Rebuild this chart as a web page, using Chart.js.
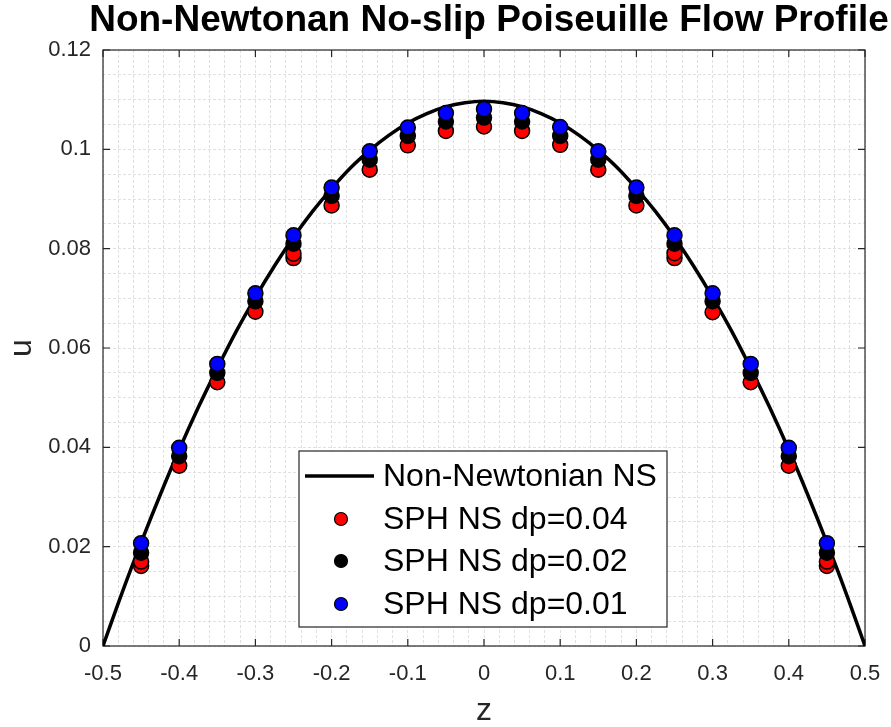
<!DOCTYPE html>
<html>
<head>
<meta charset="utf-8">
<title>Non-Newtonan No-slip Poiseuille Flow Profile</title>
<script src="https://cdn.jsdelivr.net/npm/chart.js@4.4.1/dist/chart.umd.min.js"></script>
<style>
    body { margin: 0; background: #fff; }
    canvas { display: block; }
</style>
</head>
<body>
<canvas id="flowChart" width="891" height="727"></canvas>
<script>
// analytic non-newtonian profile
const zLine = [-0.5, -0.475, -0.45, -0.425, -0.4, -0.375, -0.35, -0.325, -0.3, -0.275, -0.25, -0.225, -0.2, -0.175, -0.15, -0.125, -0.1, -0.075, -0.05, -0.025,
    0, 0.025, 0.05, 0.075, 0.1, 0.125, 0.15, 0.175, 0.2, 0.225, 0.25, 0.275, 0.3, 0.325, 0.35, 0.375, 0.4, 0.425, 0.45, 0.475, 0.5];
const uLine = [0, 0.0107, 0.0208, 0.0304, 0.0395, 0.0480, 0.0559, 0.0634, 0.0702, 0.0765, 0.0823, 0.0875, 0.0921, 0.0963, 0.0998, 0.1028, 0.1053, 0.1072, 0.1086, 0.1094,
    0.1097, 0.1094, 0.1086, 0.1072, 0.1053, 0.1028, 0.0998, 0.0963, 0.0921, 0.0875, 0.0823, 0.0765, 0.0702, 0.0634, 0.0559, 0.0480, 0.0395, 0.0304, 0.0208, 0.0107, 0];

// SPH samples
const zSph = [-0.45, -0.4, -0.35, -0.3, -0.25, -0.2, -0.15, -0.1, -0.05, 0, 0.05, 0.1, 0.15, 0.2, 0.25, 0.3, 0.35, 0.4, 0.45];
const uDp004 = [0.0170, 0.0363, 0.0531, 0.0673, 0.0790, 0.0887, 0.0959, 0.1008, 0.1037, 0.1046, 0.1037, 0.1009, 0.0959, 0.0887, 0.0791, 0.0672, 0.0531, 0.0363, 0.0170];
const uDp002 = [0.0188, 0.0382, 0.0550, 0.0694, 0.0810, 0.0906, 0.0979, 0.1027, 0.1056, 0.1064, 0.1056, 0.1027, 0.0979, 0.0906, 0.0810, 0.0694, 0.0550, 0.0382, 0.0188];
const uDp001 = [0.0207, 0.0399, 0.0568, 0.0710, 0.0827, 0.0923, 0.0996, 0.1044, 0.1073, 0.1081, 0.1073, 0.1045, 0.0996, 0.0923, 0.0827, 0.0710, 0.0568, 0.0399, 0.0207];
// dp=0.04 has a second, slightly lower marker at a few positions
const zDp004Extra = [-0.45, -0.25, 0.25, 0.45];
const uDp004Extra = [0.0161, 0.0781, 0.0781, 0.0161];

const xTickLabels = ['-0.5', '-0.4', '-0.3', '-0.2', '-0.1', '0', '0.1', '0.2', '0.3', '0.4', '0.5'];
const yTickLabels = ['0', '0.02', '0.04', '0.06', '0.08', '0.1', '0.12'];

const toPoints = (xs, ys) => xs.map((x, i) => ({x: x, y: ys[i]}));

const FONT = '"Liberation Sans", Arial, Helvetica, sans-serif';
const AXIS_COLOR = '#262626';

function isMajor(value, step) {
    const r = value / step;
    return Math.abs(r - Math.round(r)) < 1e-6;
}

function labelFor(value, step, labels) {
    if (!isMajor(value, step)) return '';
    const text = String(+value.toFixed(3));
    return labels.includes(text) ? text : '';
}

function pointSet(label, fill, data, order) {
    return {
        label: label,
        data: data,
        showLine: false,
        pointRadius: 7.5,
        pointHoverRadius: 7.5,
        pointBackgroundColor: fill,
        pointBorderColor: '#000',
        pointBorderWidth: 1.5,
        borderColor: fill,
        order: order
    };
}

// box, inward ticks, labels and title - matlab look
const axesDecor = {
    id: 'axesDecor',
    beforeDatasetsDraw(chart) {
        const {ctx, chartArea: a, scales} = chart;
        ctx.save();
        ctx.strokeStyle = AXIS_COLOR;
        ctx.lineWidth = 1.2;
        ctx.strokeRect(a.left, a.top, a.right - a.left, a.bottom - a.top);

        ctx.beginPath();
        scales.x.ticks.forEach(t => {
            if (!isMajor(t.value, 0.1)) return;
            const px = scales.x.getPixelForValue(t.value);
            ctx.moveTo(px, a.bottom); ctx.lineTo(px, a.bottom - 7);
            ctx.moveTo(px, a.top); ctx.lineTo(px, a.top + 7);
        });
        scales.y.ticks.forEach(t => {
            if (!isMajor(t.value, 0.02)) return;
            const py = scales.y.getPixelForValue(t.value);
            ctx.moveTo(a.left, py); ctx.lineTo(a.left + 7, py);
            ctx.moveTo(a.right, py); ctx.lineTo(a.right - 7, py);
        });
        ctx.stroke();
        ctx.restore();
    },
    afterDraw(chart) {
        const {ctx, chartArea: a} = chart;
        ctx.save();
        ctx.textAlign = 'center';
        ctx.textBaseline = 'middle';

        ctx.fillStyle = '#000';
        ctx.font = 'bold 37px ' + FONT;
        ctx.fillText('Non-Newtonan No-slip Poiseuille Flow Profile', 489, 21);

        ctx.fillStyle = AXIS_COLOR;
        ctx.font = '32px ' + FONT;
        ctx.fillText('z', (a.left + a.right) / 2, 711);

        ctx.translate(22, (a.top + a.bottom) / 2);
        ctx.rotate(-Math.PI / 2);
        ctx.fillText('u', 0, 0);
        ctx.restore();
    }
};

// legend box inside the axes
const boxLegend = {
    id: 'boxLegend',
    afterDraw(chart) {
        const {ctx} = chart;
        const left = 299, top = 451, width = 368, height = 176;
        const rows = [476, 519, 561, 604];

        ctx.save();
        ctx.fillStyle = '#fff';
        ctx.fillRect(left, top, width, height);
        ctx.strokeStyle = AXIS_COLOR;
        ctx.lineWidth = 1.2;
        ctx.strokeRect(left, top, width, height);

        ctx.font = '32px ' + FONT;
        ctx.textAlign = 'left';
        ctx.textBaseline = 'middle';

        chart.data.datasets.forEach((ds, i) => {
            const y = rows[i];
            if (ds.showLine) {
                ctx.strokeStyle = ds.borderColor;
                ctx.lineWidth = 3.5;
                ctx.beginPath();
                ctx.moveTo(305, y);
                ctx.lineTo(374, y);
                ctx.stroke();
            } else {
                ctx.fillStyle = ds.pointBackgroundColor;
                ctx.strokeStyle = '#000';
                ctx.lineWidth = 1.2;
                ctx.beginPath();
                ctx.arc(341, y, 6.5, 0, Math.PI * 2);
                ctx.fill();
                ctx.stroke();
            }
            ctx.fillStyle = '#000';
            ctx.fillText(ds.label, 383, y + 1);
        });
        ctx.restore();
    }
};

const flowChart = new Chart(document.getElementById('flowChart'), {
    type: 'scatter',
    data: {
        datasets: [
            {
                label: 'Non-Newtonian NS',
                data: toPoints(zLine, uLine),
                showLine: true,
                borderColor: '#000',
                borderWidth: 3.5,
                pointRadius: 0,
                pointHoverRadius: 0,
                tension: 0.4,
                order: 3
            },
            pointSet('SPH NS dp=0.04', '#ff0000', toPoints(zDp004Extra, uDp004Extra).concat(toPoints(zSph, uDp004)), 2),
            pointSet('SPH NS dp=0.02', '#000000', toPoints(zSph, uDp002), 1),
            pointSet('SPH NS dp=0.01', '#0000ff', toPoints(zSph, uDp001), 0)
        ]
    },
    options: {
        responsive: false,
        animation: false,
        layout: {padding: {top: 50, right: 26, left: 0, bottom: 0}},
        plugins: {
            legend: {display: false},
            title: {display: false},
            tooltip: {enabled: false}
        },
        scales: {
            x: {
                type: 'linear',
                min: -0.5,
                max: 0.5,
                afterFit: scale => {
                    scale.height = 81;
                    scale.paddingLeft = 0;
                    scale.paddingRight = 0;
                },
                border: {display: false, dash: [3, 2]},
                grid: {color: '#e0e0e0', lineWidth: 1, drawTicks: false},
                ticks: {
                    stepSize: 0.02,
                    autoSkip: false,
                    maxRotation: 0,
                    minRotation: 0,
                    maxTicksLimit: 200,
                    padding: 15,
                    color: AXIS_COLOR,
                    font: {family: FONT, size: 22},
                    callback: value => labelFor(value, 0.1, xTickLabels)
                }
            },
            y: {
                type: 'linear',
                min: 0,
                max: 0.12,
                afterFit: scale => { scale.width = 103; },
                border: {display: false, dash: [3, 2]},
                grid: {color: '#e0e0e0', lineWidth: 1, drawTicks: false},
                ticks: {
                    stepSize: 0.005,
                    autoSkip: false,
                    maxTicksLimit: 200,
                    padding: 12,
                    color: AXIS_COLOR,
                    font: {family: FONT, size: 22},
                    callback: value => labelFor(value, 0.02, yTickLabels)
                }
            }
        }
    },
    plugins: [axesDecor, boxLegend]
});
</script>
</body>
</html>
